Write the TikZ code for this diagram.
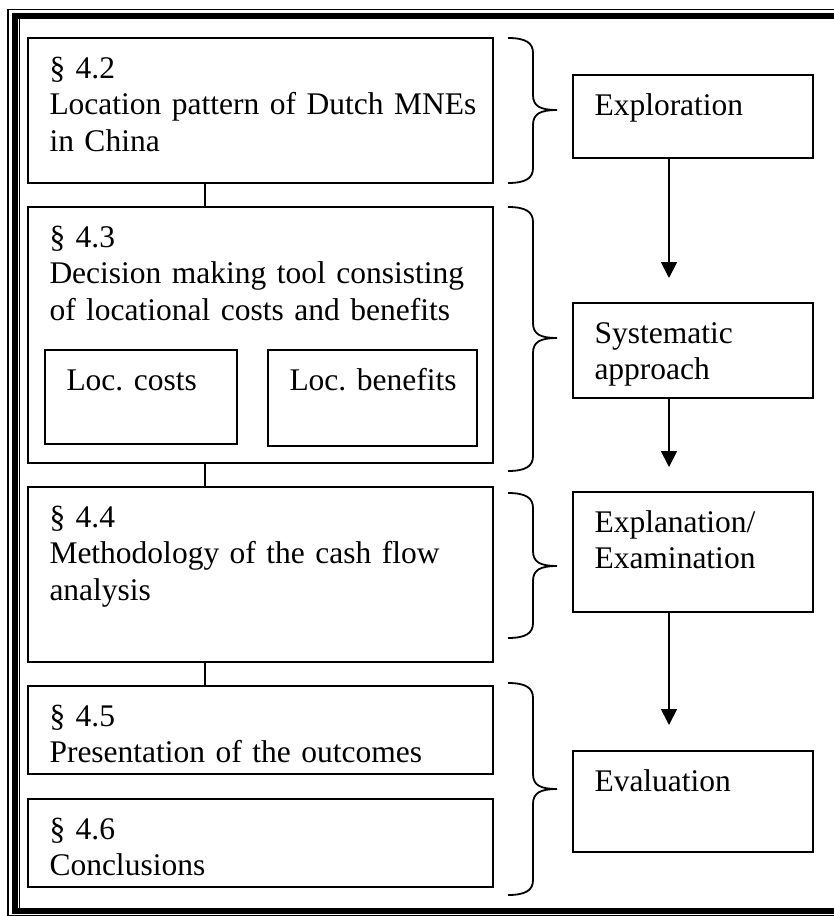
\documentclass[tikz,border=0pt]{standalone}
\usepackage{fontspec}
\setmainfont{Liberation Serif}
\usetikzlibrary{arrows.meta}
\frenchspacing

% curly brace: x, top, middle, bottom
\newcommand{\klammer}[4]{%
  \draw [curly] (#1,#2) .. controls ({#1+18},#2) and ({#1+25},{#2+5}) .. ({#1+25},{#2+15})
    -- ({#1+25},{#3-15}) .. controls ({#1+25},{#3-4}) and ({#1+32},#3) .. ({#1+49},#3)
    .. controls ({#1+32},#3) and ({#1+25},{#3+4}) .. ({#1+25},{#3+15})
    -- ({#1+25},{#4-15}) .. controls ({#1+25},{#4-5}) and ({#1+18},#4) .. (#1,#4);}

\begin{document}
\begin{tikzpicture}[x=1pt, y=-1pt, font=\fontsize{31.5}{36.5}\selectfont,
    sec/.style={rectangle, draw=black, line width=2pt, anchor=north west, outer sep=0pt,
                inner xsep=21.5pt, inner ysep=0pt, text height=40pt, align=left},
    phase/.style={sec},
    link/.style={line width=1.8pt, draw=black},
    flow/.style={-{Triangle[length=16pt, width=16pt]}, line width=1.8pt, draw=black},
    curly/.style={line width=1.8pt, draw=black}]

    \useasboundingbox (0,0) rectangle (834,916);

    % okvir
    \draw [line width=1.4pt] (8,9.5) rectangle (880,915.3);
    \draw [line width=6pt] (14.5,16) rectangle (870,911);
    \draw [line width=1.4pt] (19.5,19) -- (19.5,908);

    % paragrafi
    \node (s42) [sec, text width=422pt, text depth=105pt] at (28,38)  {§ 4.2\\\mbox{Location pattern of Dutch MNEs}\\in China};
    \node (s43) [sec, text width=422pt, text depth=216pt] at (28,207) {§ 4.3\\\mbox{Decision making tool consisting}\\\mbox{of locational costs and benefits}};
    \node (lc)  [sec, text width=149pt, text depth=54pt]  at (45,350) {\mbox{Loc. costs}};
    \node (lb)  [sec, text width=166pt, text depth=56pt]  at (268,350) {\mbox{Loc. benefits}};
    \node (s44) [sec, text width=422pt, text depth=135pt] at (28,487) {§ 4.4\\\mbox{Methodology of the cash flow}\\analysis};
    \node (s45) [sec, text width=422pt, text depth=48pt]  at (28,686) {§ 4.5\\\mbox{Presentation of the outcomes}};
    \node (s46) [sec, text width=422pt, text depth=48pt]  at (28,799) {§ 4.6\\Conclusions};

    % faze
    \node (expl) [phase, text width=197pt, text depth=43pt] at (573,75)  {Exploration};
    \node (syst) [phase, text width=197pt, text depth=55pt] at (573,303) {Systematic\\approach};
    \node (exam) [phase, text width=197pt, text depth=80pt] at (573,492) {Explanation/\\Examination};
    \node (eval) [phase, text width=197pt, text depth=61pt] at (573,751) {Evaluation};

    \coordinate (lx) at (205,0);
    \coordinate (ax) at (669,0);

    % veze
    \draw [link] (s42.south -| lx) -- (s43.north -| lx);
    \draw [link] (s43.south -| lx) -- (s44.north -| lx);
    \draw [link] (s44.south -| lx) -- (s45.north -| lx);

    \draw [flow] (expl.south -| ax) -- ([yshift=25pt]syst.north -| ax);
    \draw [flow] (syst.south -| ax) -- ([yshift=25pt]exam.north -| ax);
    \draw [flow] (exam.south -| ax) -- ([yshift=26pt]eval.north -| ax);

    % zagrade
    \klammer{508}{38}{110}{183}
    \klammer{508}{207}{338}{471}
    \klammer{508}{493}{566}{638}
    \klammer{508}{683}{789}{895}
\end{tikzpicture}
\end{document}
